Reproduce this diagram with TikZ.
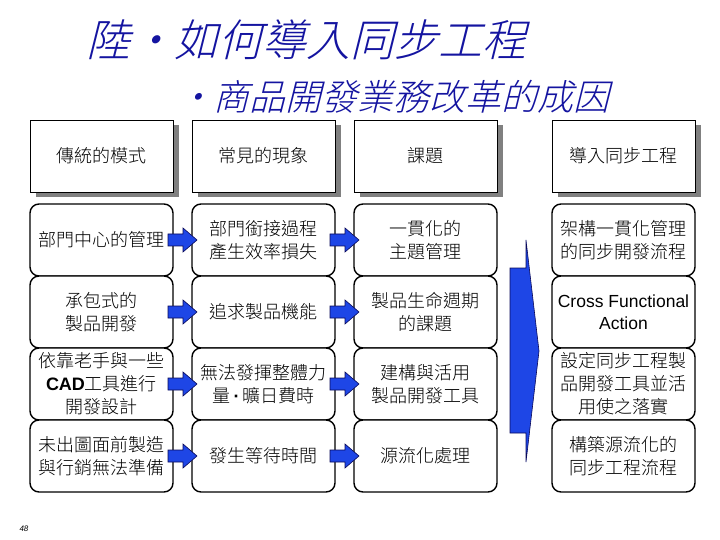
\documentclass[tikz,border=0pt]{standalone}
\usepackage{fontspec}
\setmainfont{Noto Sans CJK TC}[UprightFont=* Light, BoldFont=* Bold]
\newfontfamily\titlefont{Noto Sans CJK TC}[UprightFont=* Light, FakeSlant=0.25]
\newfontfamily\arialfont{Liberation Sans}
\usetikzlibrary{shadows,calc}
\definecolor{titleblue}{RGB}{20,20,160}
\definecolor{arrowblue}{RGB}{30,70,230}
\definecolor{arrowedge}{RGB}{10,10,90}
\newcommand\blockarrowat[1]{\draw[sarr] #1 ++(-14.5,-6) -- ++(15,0) -- ++(0,-6) -- ++(14,12) -- ++(-14,12) -- ++(0,-6) -- ++(-15,0) -- cycle;}
\begin{document}
\begin{tikzpicture}[x=1bp,y=-1bp,
  header/.style={draw=black, line width=0.9bp, fill=white, minimum width=143bp, minimum height=72bp, inner sep=0pt,
    font=\fontsize{18bp}{23bp}\selectfont, align=center,
    drop shadow={shadow xshift=6bp, shadow yshift=-5bp, fill=black!50, opacity=1}},
  cell/.style={draw=black, line width=1.4bp, rounded corners=9bp, fill=white, minimum width=143bp, minimum height=72bp,
    inner sep=0pt, font=\fontsize{18bp}{23bp}\selectfont, align=center},
  sarr/.style={fill=arrowblue, draw=arrowedge, line width=0.6bp, line join=miter}]
\useasboundingbox (0,0) rectangle (720,540);
% titles
\node[anchor=west, font=\titlefont\fontsize{44bp}{44bp}\selectfont, text=titleblue, inner sep=0pt] (title) at (86,40) {陸・如何導入同步工程};
\node[anchor=west, font=\titlefont\fontsize{36bp}{36bp}\selectfont, text=titleblue, inner sep=0pt] (subtitle) at (177,97) {・商品開發業務改革的成因};
% headers
\node[header] (h1) at (101.5,156) {傳統的模式};
\node[header] (h2) at (263.5,156) {常見的現象};
\node[header] (h3) at (425.5,156) {課題};
\node[header] (h4) at (623.5,156) {導入同步工程};
% column 1
\node[cell] (a1) at (101.5,240) {部門中心的管理};
\node[cell] (a2) at (101.5,312) {承包式的\\製品開發};
\node[cell] (a3) at (101.5,384) {依靠老手與一些\\{\arialfont\bfseries CAD}工具進行\\開發設計};
\node[cell] (a4) at (101.5,456) {未出圖面前製造\\與行銷無法準備};
% column 2
\node[cell] (b1) at (263.5,240) {部門銜接過程\\產生效率損失};
\node[cell] (b2) at (263.5,312) {追求製品機能};
\node[cell] (b3) at (263.5,384) {無法發揮整體力\\量{\arialfont\bfseries\,·\,}曠日費時};
\node[cell] (b4) at (263.5,456) {發生等待時間};
% column 3
\node[cell] (c1) at (425.5,240) {一貫化的\\主題管理};
\node[cell] (c2) at (425.5,312) {製品生命週期\\的課題};
\node[cell] (c3) at (425.5,384) {建構與活用\\製品開發工具};
\node[cell] (c4) at (425.5,456) {源流化處理};
% column 4
\node[cell] (d1) at (623.5,240) {架構一貫化管理\\的同步開發流程};
\node[cell, font=\arialfont\fontsize{17.5bp}{22bp}\selectfont] (d2) at (623.5,312) {Cross Functional\\Action};
\node[cell] (d3) at (623.5,384) {設定同步工程製\\品開發工具並活\\用使之落實};
\node[cell] (d4) at (623.5,456) {構築源流化的\\同步工程流程};
% small arrows
\blockarrowat{($(a1.east)!0.5!(b1.west)$)}
\blockarrowat{($(a2.east)!0.5!(b2.west)$)}
\blockarrowat{($(a3.east)!0.5!(b3.west)$)}
\blockarrowat{($(a4.east)!0.5!(b4.west)$)}
\blockarrowat{($(b1.east)!0.5!(c1.west)$)}
\blockarrowat{($(b2.east)!0.5!(c2.west)$)}
\blockarrowat{($(b3.east)!0.5!(c3.west)$)}
\blockarrowat{($(b4.east)!0.5!(c4.west)$)}
% big arrow
\draw[sarr] (510,268) -- (526,268) -- (526,240) -- (539,351) -- (526,462) -- (526,433) -- (510,433) -- cycle;
% page number
\node[font=\arialfont\itshape\fontsize{8bp}{8bp}\selectfont, inner sep=0pt] (pnum) at (24,529) {48};
\end{tikzpicture}
\end{document}
